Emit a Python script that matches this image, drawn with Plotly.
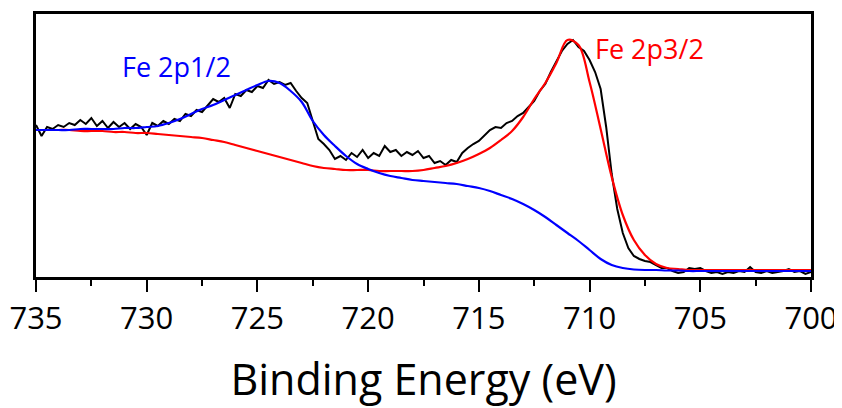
import numpy as np
import plotly.graph_objects as go

# Binding energy grids (eV)
energy_raw = np.round(np.arange(735.0, 699.99, -0.25), 2)
energy_fit = np.round(np.arange(735.0, 699.99, -0.5), 2)

raw_counts = [
    152, 141, 150, 148, 152, 150, 154, 152, 157, 153,
    159, 151, 156, 149, 155, 150, 154, 148, 153, 150,
    142, 154, 151, 156, 153, 158, 156, 163, 161, 167,
    165, 171, 178, 175, 179, 169, 183, 181, 187, 185,
    191, 189, 197, 193, 195, 192, 194, 186, 179, 174,
    156, 138, 133, 127, 118, 121, 117, 124, 120, 127,
    119, 124, 121, 131, 125, 127, 121, 125, 122, 126,
    119, 121, 114, 116, 112, 117, 115, 124, 129, 133,
    136, 142, 147, 150, 149, 154, 156, 161, 164, 170,
    176, 186, 193, 205, 215, 226, 233, 237, 230, 226,
    217, 205, 188, 150, 103, 68, 44, 29, 21, 18,
    16, 15, 12, 9, 9, 6, 4, 5, 9, 8,
    9, 6, 4, 5, 3, 5, 4, 6, 5, 10,
    5, 4, 6, 4, 5, 6, 8, 5, 6, 3,
    5,
]

# Fe 2p3/2 fit (red), 735 -> 700 eV in 0.5 eV steps
fit_2p32 = [
    147, 147, 147, 147, 146, 146, 146, 145, 145, 144,
    144, 143, 142, 141, 140, 139, 137, 135, 132, 129,
    126, 123, 120, 117, 114, 111, 109, 108, 107, 107,
    107, 106, 106, 106, 106, 107, 109, 111, 114, 118,
    123, 129, 137, 146, 160, 178, 194, 214, 237, 232,
    195, 148, 100, 62, 37, 22, 13, 9, 8, 7,
    7, 7, 7, 7, 7, 7, 7, 7, 7, 7,
    7,
]

# Fe 2p1/2 fit (blue), 735 -> 700 eV in 0.5 eV steps
fit_2p12 = [
    147, 147, 147, 147, 148, 148, 148, 148, 149, 149,
    150, 151, 154, 158, 163, 168, 172, 177, 182, 187,
    192, 196, 194, 186, 175, 156, 142, 131, 121, 113,
    108, 104, 101, 99, 97, 96, 95, 94, 93, 91,
    89, 86, 82, 78, 73, 67, 60, 52, 44, 36,
    27, 18, 12, 9, 7.5, 7, 7, 6.5, 6.5, 6,
    6, 6, 6, 6, 6, 6, 6, 6, 6, 6,
    6,
]

x_ticks = [735, 730, 725, 720, 715, 710, 705, 700]
label_2p12 = "Fe 2p1/2"
label_2p32 = "Fe 2p3/2"

FONT = "Open Sans"

fig = go.Figure()
fig.add_trace(go.Scatter(x=energy_raw, y=raw_counts, mode="lines",
                         line=dict(color="#000000", width=2), showlegend=False))
fig.add_trace(go.Scatter(x=energy_fit, y=fit_2p32, mode="lines",
                         line=dict(color="#ff0000", width=2.2, shape="spline", smoothing=1.0),
                         showlegend=False))
fig.add_trace(go.Scatter(x=energy_fit, y=fit_2p12, mode="lines",
                         line=dict(color="#0000ff", width=2.2, shape="spline", smoothing=1.0),
                         showlegend=False))

fig.add_annotation(x=728.65, y=211, xref="x", yref="y", text=label_2p12, showarrow=False,
                   font=dict(family=FONT, size=27, color="#0000ff"))
fig.add_annotation(x=707.3, y=229, xref="x", yref="y", text=label_2p32, showarrow=False,
                   font=dict(family=FONT, size=27, color="#ff0000"))

# the page body adds an 8px offset, so the figure is sized to fill the rest of the window
fig.update_layout(
    width=834, height=400,
    margin=dict(l=28, r=31, t=6, b=131),
    paper_bgcolor="white", plot_bgcolor="white",
    font=dict(family=FONT, color="black"),
    xaxis=dict(
        range=[735, 700], autorange=False, automargin=False,
        tickvals=x_ticks, ticktext=[str(v) for v in x_ticks],
        ticks="outside", ticklen=12, tickwidth=2, tickcolor="black",
        minor=dict(dtick=2.5, tick0=700, ticks="outside", ticklen=6, tickwidth=2, tickcolor="black"),
        showline=True, linewidth=2.5, linecolor="black", mirror=True,
        showgrid=False, zeroline=False,
        tickfont=dict(family=FONT, size=31, color="black"),
        title=dict(text="Binding Energy (eV)", font=dict(family=FONT, size=43, color="black"), standoff=30),
    ),
    yaxis=dict(
        range=[0, 263], autorange=False, automargin=False,
        showticklabels=False, ticks="",
        showline=True, linewidth=2.5, linecolor="black", mirror=True,
        showgrid=False, zeroline=False,
    ),
)

fig.write_html("out.html")
